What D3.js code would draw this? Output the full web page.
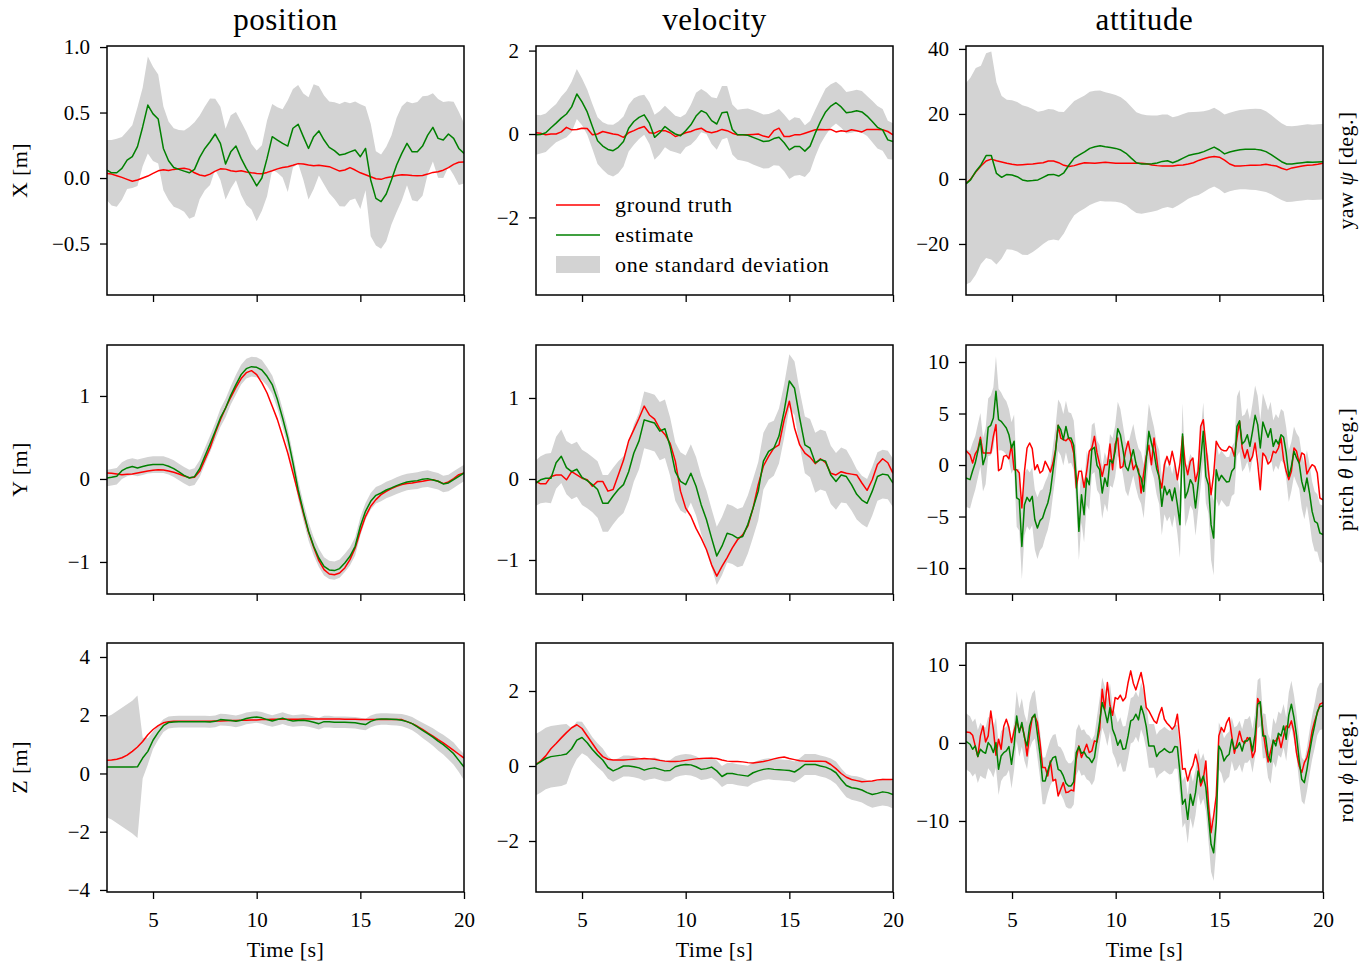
<!DOCTYPE html>
<html>
<head>
<meta charset="utf-8">
<script src="https://cdn.jsdelivr.net/npm/d3@7"></script>
<style>
  body { margin: 0; background: #fff; }
  text { font-family: "Liberation Serif", "DejaVu Serif", serif; fill: #000; }
</style>
</head>
<body>
<svg id="chart" width="1369" height="963"></svg>
<script>
// Sample times [s]
const time = [2.78].concat(d3.range(3, 20.001, 0.25));                       // 70 samples
const timeFine = [2.78].concat(d3.range(1, 137).map(k => 2.85 + 0.125 * k), [20]); // 138 samples

// Column / row labels
const columnTitles = ["position", "velocity", "attitude"];
const leftLabels = ["X [m]", "Y [m]", "Z [m]"];
const rightLabels = [["yaw ", "ψ", " [deg.]"], ["pitch ", "θ", " [deg.]"], ["roll ", "ϕ", " [deg.]"]];
const timeTicks = [5, 10, 15, 20];
const legendLabels = ["ground truth", "estimate", "one standard deviation"];

// ---- position X
const posXTruth = [0.035, 0.03, 0.018, 0.005, -0.01, -0.025, -0.015, 0.0, 0.015, 0.035,
  0.055, 0.063, 0.058, 0.066, 0.07, 0.074, 0.066, 0.04, 0.023, 0.015,
  0.03, 0.053, 0.07, 0.068, 0.056, 0.05, 0.056, 0.046, 0.04, 0.035,
  0.033, 0.043, 0.056, 0.07, 0.08, 0.086, 0.097, 0.11, 0.107, 0.1,
  0.094, 0.097, 0.092, 0.087, 0.07, 0.053, 0.061, 0.08, 0.061, 0.04,
  0.025, 0.01, -0.005, -0.01, 0.003, 0.01, 0.02, 0.025, 0.023, 0.02,
  0.018, 0.02, 0.03, 0.043, 0.048, 0.06, 0.08, 0.104, 0.12, 0.122];
const posXEst = [0.061, 0.04, 0.04, 0.074, 0.137, 0.163, 0.24, 0.39, 0.557, 0.49,
  0.45, 0.226, 0.132, 0.08, 0.066, 0.053, 0.04, 0.066, 0.158, 0.226,
  0.277, 0.336, 0.265, 0.107, 0.2, 0.244, 0.15, 0.074, 0.01, -0.06,
  0.0, 0.15, 0.316, 0.29, 0.265, 0.244, 0.38, 0.41, 0.316, 0.226,
  0.316, 0.36, 0.29, 0.234, 0.209, 0.175, 0.183, 0.2, 0.214, 0.163,
  0.226, -0.015, -0.155, -0.18, -0.122, -0.015, 0.1, 0.188, 0.265, 0.2,
  0.2, 0.244, 0.328, 0.387, 0.303, 0.29, 0.336, 0.303, 0.226, 0.188];
const posXStd = [0.23, 0.25, 0.26, 0.24, 0.22, 0.24, 0.3, 0.3, 0.37, 0.36,
  0.34, 0.32, 0.3, 0.3, 0.3, 0.31, 0.35, 0.36, 0.32, 0.32,
  0.33, 0.27, 0.28, 0.27, 0.28, 0.26, 0.28, 0.28, 0.25, 0.27,
  0.25, 0.29, 0.25, 0.25, 0.26, 0.35, 0.3, 0.3, 0.33, 0.39,
  0.4, 0.34, 0.34, 0.35, 0.37, 0.39, 0.4, 0.37, 0.37, 0.4,
  0.32, 0.43, 0.36, 0.36, 0.36, 0.34, 0.36, 0.36, 0.32, 0.37,
  0.38, 0.38, 0.3, 0.26, 0.3, 0.29, 0.25, 0.28, 0.28, 0.23];

// ---- velocity X
const velXTruth = [0.03, 0.02, -0.02, 0.0, 0.0, 0.05, 0.16, 0.1, 0.11, 0.14,
  0.13, -0.02, 0.0, 0.06, 0.03, 0.0, -0.02, -0.08, 0.03, 0.08,
  0.14, 0.18, 0.03, 0.02, 0.08, 0.08, 0.03, -0.06, -0.02, 0.03,
  0.06, 0.11, 0.14, 0.06, 0.03, 0.06, 0.11, 0.08, 0.02, -0.02,
  -0.02, -0.02, -0.01, 0.0, -0.05, -0.08, 0.08, 0.14, -0.06, -0.06,
  -0.02, -0.02, 0.02, 0.06, 0.1, 0.11, 0.1, 0.11, 0.05, 0.08,
  0.06, 0.1, 0.08, 0.05, 0.11, 0.11, 0.11, 0.1, 0.06, -0.02];
const velXEst = [-0.02, -0.01, 0.03, 0.15, 0.26, 0.38, 0.48, 0.65, 0.96, 0.77,
  0.53, 0.18, -0.16, -0.29, -0.37, -0.4, -0.32, -0.18, 0.14, 0.3,
  0.4, 0.46, 0.26, -0.08, 0.03, 0.18, 0.08, 0.0, -0.04, 0.08,
  0.22, 0.43, 0.56, 0.5, 0.32, 0.24, 0.51, 0.53, 0.11, -0.02,
  -0.02, -0.03, -0.08, -0.13, -0.18, -0.17, -0.11, -0.08, -0.21, -0.38,
  -0.3, -0.3, -0.41, -0.29, 0.02, 0.3, 0.53, 0.67, 0.75, 0.65,
  0.51, 0.53, 0.56, 0.53, 0.43, 0.3, 0.16, 0.1, -0.14, -0.18];
const velXStd = [0.48, 0.46, 0.46, 0.46, 0.46, 0.52, 0.56, 0.6, 0.6, 0.56,
  0.54, 0.54, 0.56, 0.57, 0.6, 0.62, 0.62, 0.6, 0.56, 0.56,
  0.52, 0.48, 0.5, 0.54, 0.52, 0.5, 0.48, 0.44, 0.44, 0.4,
  0.48, 0.56, 0.52, 0.5, 0.56, 0.62, 0.64, 0.62, 0.6, 0.6,
  0.62, 0.64, 0.65, 0.65, 0.65, 0.65, 0.64, 0.68, 0.68, 0.7,
  0.7, 0.68, 0.62, 0.6, 0.56, 0.54, 0.56, 0.52, 0.5, 0.5,
  0.5, 0.5, 0.5, 0.5, 0.48, 0.5, 0.51, 0.5, 0.46, 0.44];

// ---- yaw
const yawTruth = [-1.3, -0.1, 2.1, 4.0, 5.5, 6.1, 5.6, 5.2, 4.8, 4.5,
  4.3, 4.4, 4.5, 4.6, 4.8, 5.0, 5.5, 5.5, 5.0, 4.2,
  3.8, 4.1, 4.6, 5.0, 4.9, 4.8, 5.0, 5.1, 5.0, 4.8,
  4.8, 4.8, 4.8, 4.8, 4.8, 4.7, 4.3, 4.1, 4.0, 4.0,
  4.0, 4.2, 4.3, 4.6, 5.0, 5.7, 6.2, 6.7, 6.9, 6.7,
  5.8, 4.6, 4.0, 4.0, 4.1, 4.2, 4.2, 4.3, 4.5, 4.2,
  4.0, 3.3, 2.8, 3.4, 3.7, 4.0, 4.2, 4.3, 4.5, 4.8];
const yawEst = [-1.5, -0.3, 2.3, 4.3, 7.2, 7.2, 1.7, 0.5, 1.4, 1.2,
  0.7, -0.3, -0.6, -0.5, -0.3, 0.5, 1.3, 1.4, 0.9, 1.9,
  4.3, 6.4, 7.4, 8.3, 9.4, 9.9, 10.2, 9.9, 9.7, 9.4,
  8.9, 7.9, 6.4, 5.0, 4.6, 4.6, 4.7, 4.9, 5.4, 5.6,
  5.0, 5.6, 6.4, 7.2, 7.6, 7.9, 8.4, 9.1, 9.8, 8.9,
  7.7, 8.3, 8.7, 9.0, 9.1, 9.1, 9.1, 8.9, 8.4, 7.5,
  6.4, 5.3, 4.6, 4.6, 4.8, 5.0, 5.2, 5.1, 5.2, 5.3];
const yawStd = [31, 31.5, 31.8, 30.5, 31.5, 32, 28, 25, 23, 23,
  23, 23, 22.8, 22, 21, 20.5, 20.2, 20, 19.8, 18.7,
  18, 17.6, 17.4, 17.4, 17.4, 17.2, 17, 16.8, 16.6, 16.4,
  16.2, 16, 15.8, 15.5, 15.3, 15, 14.8, 14.6, 14.4, 14.2,
  14, 13.8, 13.6, 13.3, 13, 12.8, 12.4, 12.1, 12.1, 12.1,
  12.1, 12.1, 12.1, 12.2, 12.3, 12.4, 12.5, 12.6, 12.4, 12.2,
  12, 11.8, 11.7, 11.6, 11.6, 11.6, 11.6, 11.6, 11.6, 11.6];

// ---- position Y
const posYTruth = [0.072, 0.068, 0.06, 0.052, 0.056, 0.06, 0.072, 0.084, 0.096, 0.104,
  0.112, 0.108, 0.096, 0.08, 0.06, 0.036, 0.016, 0.02, 0.092, 0.233,
  0.373, 0.554, 0.715, 0.855, 0.984, 1.104, 1.209, 1.281, 1.305, 1.257,
  1.157, 1.036, 0.876, 0.715, 0.514, 0.313, 0.072, -0.169, -0.41, -0.639,
  -0.823, -0.984, -1.092, -1.145, -1.153, -1.133, -1.072, -0.972, -0.831, -0.631,
  -0.45, -0.329, -0.249, -0.189, -0.149, -0.116, -0.088, -0.068, -0.056, -0.048,
  -0.036, -0.028, -0.016, -0.008, -0.028, -0.056, -0.036, 0.004, 0.052, 0.072];
const posYEst = [0.012, 0.02, 0.032, 0.1, 0.133, 0.149, 0.133, 0.149, 0.165, 0.173,
  0.173, 0.173, 0.153, 0.124, 0.084, 0.044, 0.012, 0.028, 0.124, 0.273,
  0.422, 0.574, 0.735, 0.855, 1.008, 1.137, 1.257, 1.329, 1.353, 1.345,
  1.313, 1.237, 1.137, 0.956, 0.735, 0.494, 0.193, -0.129, -0.39, -0.63,
  -0.811, -0.952, -1.052, -1.096, -1.104, -1.08, -1.012, -0.932, -0.811, -0.57,
  -0.39, -0.269, -0.197, -0.169, -0.133, -0.108, -0.08, -0.056, -0.036, -0.028,
  -0.02, -0.004, 0.004, -0.012, -0.028, -0.06, -0.048, -0.008, 0.032, 0.072];
const posYStd = [0.1, 0.1, 0.1, 0.1, 0.1, 0.1, 0.1, 0.1, 0.1, 0.1,
  0.1, 0.1, 0.1, 0.1, 0.1, 0.1, 0.1, 0.1, 0.1, 0.1,
  0.1, 0.1, 0.11, 0.11, 0.11, 0.12, 0.12, 0.12, 0.12, 0.12,
  0.12, 0.11, 0.11, 0.11, 0.11, 0.11, 0.11, 0.11, 0.11, 0.11,
  0.11, 0.11, 0.11, 0.11, 0.11, 0.11, 0.11, 0.11, 0.11, 0.11,
  0.1, 0.1, 0.1, 0.1, 0.1, 0.1, 0.1, 0.1, 0.1, 0.1,
  0.1, 0.1, 0.1, 0.1, 0.1, 0.1, 0.1, 0.1, 0.1, 0.1];

// ---- velocity Y
const velYTruth = [-0.03, -0.06, -0.06, 0.03, 0.05, 0.05, -0.01, 0.09, 0.05, 0.01,
  -0.01, -0.09, -0.03, -0.03, -0.15, -0.13, 0.05, 0.23, 0.47, 0.61,
  0.75, 0.9, 0.79, 0.74, 0.62, 0.55, 0.44, 0.22, -0.15, -0.36,
  -0.46, -0.61, -0.73, -0.87, -1.06, -1.2, -1.08, -0.97, -0.85, -0.75,
  -0.69, -0.58, -0.36, -0.07, 0.16, 0.28, 0.38, 0.42, 0.73, 0.96,
  0.63, 0.42, 0.32, 0.27, 0.19, 0.25, 0.2, 0.07, 0.05, 0.09,
  0.07, 0.06, 0.05, -0.05, -0.14, -0.01, 0.18, 0.25, 0.2, 0.07];
const velYEst = [-0.05, -0.01, 0.01, 0.01, 0.2, 0.28, 0.14, 0.09, 0.12, 0.02,
  -0.02, -0.07, -0.13, -0.3, -0.3, -0.21, -0.13, -0.07, 0.09, 0.32,
  0.47, 0.73, 0.71, 0.69, 0.59, 0.62, 0.4, 0.09, -0.03, -0.07,
  0.07, -0.09, -0.32, -0.5, -0.73, -0.95, -0.83, -0.67, -0.69, -0.73,
  -0.71, -0.56, -0.36, -0.15, 0.22, 0.34, 0.38, 0.53, 0.84, 1.21,
  1.12, 0.75, 0.42, 0.38, 0.2, 0.24, 0.22, 0.05, -0.03, 0.05,
  0.03, -0.07, -0.19, -0.26, -0.3, -0.15, 0.03, 0.06, 0.05, -0.05];
const velYStd = [0.28, 0.29, 0.3, 0.31, 0.32, 0.33, 0.33, 0.34, 0.34, 0.34,
  0.34, 0.34, 0.35, 0.35, 0.35, 0.35, 0.35, 0.35, 0.35, 0.35,
  0.35, 0.35, 0.35, 0.35, 0.36, 0.36, 0.36, 0.36, 0.36, 0.36,
  0.36, 0.36, 0.36, 0.36, 0.36, 0.36, 0.36, 0.36, 0.36, 0.36,
  0.36, 0.36, 0.36, 0.36, 0.35, 0.35, 0.34, 0.34, 0.33, 0.33,
  0.33, 0.34, 0.35, 0.36, 0.37, 0.37, 0.37, 0.36, 0.35, 0.34,
  0.33, 0.32, 0.31, 0.3, 0.3, 0.3, 0.3, 0.3, 0.3, 0.3];

// ---- pitch (fine sampling)
const pitchTruth = [1.39, 1.0, 0.19, 1.07, 1.49, 2.69, 1.17, 1.17, 1.17, 1.17,
  2.78, 3.92, -0.55, -0.36, 0.84, 0.94, 0.61, 1.91, -0.45, -0.45,
  -0.78, -4.17, -0.61, 1.65, 2.14, 1.59, -0.45, 0.03, -0.78, -0.55,
  0.36, -0.13, -0.68, 0.19, 1.49, 3.85, 2.62, 2.46, 2.36, 2.62,
  2.23, 1.17, -2.23, -0.61, -0.61, -2.17, -0.61, 1.33, 1.65, 2.78,
  1.17, 0.1, -1.1, 0.03, 0.03, 2.04, -0.45, 2.04, 2.62, -0.29,
  -0.13, 1.33, 2.3, 1.0, -0.45, 0.03, -0.45, -2.72, -0.78, 0.84,
  1.91, 0.03, 2.62, 0.68, -1.26, -2.23, 0.03, 0.84, 0.03, 1.33,
  0.19, -1.42, 0.19, 2.78, 0.19, -0.94, 0.36, 0.68, -1.59, -0.61,
  3.75, 4.4, 1.97, -0.61, -2.88, -0.94, 2.3, 1.81, 1.49, 1.39,
  1.39, 1.81, 1.65, 0.84, 2.62, 4.24, 1.65, 0.68, 1.49, 0.36,
  0.84, 2.14, 0.19, -2.39, 1.17, 0.84, 0.1, 0.36, 1.33, 1.17,
  1.65, 2.62, 0.52, -0.61, -1.42, -0.61, 1.65, 1.33, 0.19, 1.17,
  1.0, -0.87, -0.36, 0.03, -0.13, -0.78, -3.2, -3.37];
const pitchEst = [-1.26, -1.42, -0.55, 0.19, 1.33, 2.46, 0.03, 0.84, 3.66, 3.85,
  4.56, 7.15, 4.4, 4.24, 3.92, 3.59, 2.94, 1.65, 2.3, -3.2,
  -3.37, -7.9, -3.85, -3.14, -3.53, -3.04, -5.31, -6.12, -5.4, -5.15,
  -4.34, -3.69, -2.56, -0.55, 1.33, 3.85, 3.43, 2.46, 3.75, 2.62,
  2.62, 1.91, -1.26, -6.44, -2.88, -4.82, -1.26, -1.91, 1.49, 1.72,
  -0.03, -0.45, -2.72, -1.26, -2.07, 0.52, 0.19, 1.33, 3.53, 2.94,
  1.49, -0.13, -0.55, 0.52, 1.49, 0.19, -0.78, -1.26, -2.56, 0.52,
  3.27, 2.14, 1.17, -0.36, -1.2, -4.01, -2.07, -2.88, -2.39, -3.46,
  -2.23, -3.85, -5.79, 3.0, -3.2, -2.56, -1.42, -1.91, -4.17, -1.91,
  0.52, 3.27, -1.1, -1.91, -5.79, -7.09, -0.45, -1.52, -1.0, -1.33,
  -1.65, -1.59, -0.61, -0.29, 3.75, 4.3, 2.04, 2.3, 2.94, 1.81,
  3.27, 4.82, 3.92, 1.65, 4.17, 3.43, 2.69, 3.53, 1.81, 2.46,
  2.04, 2.94, 2.69, 1.17, -1.1, -0.13, 1.33, 0.68, 0.19, -1.59,
  -2.56, -1.26, -2.72, -4.5, -5.47, -5.63, -6.6, -6.76];
const pitchStd = [2.8, 2.8, 2.7, 2.6, 2.6, 2.6, 2.6, 2.7, 2.8, 2.9,
  3.0, 3.4, 3.0, 2.8, 2.6, 2.6, 2.5, 2.5, 2.6, 2.8,
  3.0, 3.2, 3.0, 2.8, 2.8, 2.8, 2.9, 3.0, 2.9, 2.8,
  2.7, 2.6, 2.5, 2.4, 2.4, 2.5, 2.5, 2.5, 2.5, 2.5,
  2.4, 2.4, 2.6, 2.8, 2.7, 2.7, 2.6, 2.5, 2.4, 2.4,
  2.4, 2.4, 2.5, 2.5, 2.5, 2.5, 2.4, 2.5, 2.6, 2.5,
  2.4, 2.4, 2.5, 2.5, 2.5, 2.4, 2.4, 2.5, 2.6, 2.6,
  2.7, 2.6, 2.5, 2.5, 2.6, 2.8, 2.7, 2.6, 2.6, 2.6,
  2.6, 2.8, 3.2, 3.0, 2.8, 2.6, 2.5, 2.5, 2.7, 2.6,
  2.7, 2.8, 2.6, 2.8, 3.4, 3.6, 2.8, 2.5, 2.4, 2.4,
  2.4, 2.4, 2.4, 2.5, 2.9, 3.0, 2.7, 2.6, 2.6, 2.6,
  2.7, 2.9, 2.8, 2.7, 2.8, 2.7, 2.6, 2.6, 2.5, 2.5,
  2.5, 2.5, 2.5, 2.5, 2.5, 2.4, 2.4, 2.4, 2.5, 2.6,
  2.7, 2.7, 2.8, 2.9, 2.9, 2.8, 2.8, 2.8];

// ---- position Z
const posZTruth = [0.45, 0.46, 0.49, 0.54, 0.63, 0.76, 0.91, 1.1, 1.33, 1.51,
  1.64, 1.74, 1.78, 1.79, 1.79, 1.79, 1.79, 1.79, 1.79, 1.79,
  1.79, 1.8, 1.8, 1.81, 1.82, 1.82, 1.83, 1.83, 1.84, 1.84,
  1.85, 1.85, 1.86, 1.86, 1.86, 1.86, 1.86, 1.86, 1.87, 1.87,
  1.87, 1.87, 1.87, 1.87, 1.87, 1.87, 1.86, 1.86, 1.86, 1.85,
  1.85, 1.85, 1.85, 1.85, 1.85, 1.85, 1.85, 1.85, 1.78, 1.71,
  1.62, 1.51, 1.39, 1.28, 1.16, 1.05, 0.92, 0.79, 0.66, 0.53];
const posZEst = [0.22, 0.22, 0.22, 0.22, 0.22, 0.22, 0.23, 0.53, 0.76, 1.14,
  1.41, 1.64, 1.75, 1.77, 1.78, 1.78, 1.78, 1.78, 1.78, 1.78,
  1.77, 1.79, 1.85, 1.84, 1.82, 1.79, 1.83, 1.89, 1.92, 1.94,
  1.91, 1.85, 1.8, 1.85, 1.9, 1.84, 1.8, 1.82, 1.83, 1.8,
  1.76, 1.71, 1.78, 1.78, 1.76, 1.76, 1.76, 1.75, 1.74, 1.71,
  1.68, 1.79, 1.85, 1.87, 1.87, 1.86, 1.85, 1.83, 1.78, 1.71,
  1.6, 1.48, 1.37, 1.25, 1.11, 0.99, 0.84, 0.68, 0.45, 0.22];
const posZStd = [1.73, 1.8, 1.92, 2.04, 2.16, 2.28, 2.45, 0.7, 0.45, 0.3,
  0.25, 0.22, 0.21, 0.2, 0.2, 0.2, 0.2, 0.2, 0.2, 0.2,
  0.2, 0.2, 0.2, 0.2, 0.2, 0.2, 0.2, 0.2, 0.2, 0.2,
  0.2, 0.2, 0.2, 0.2, 0.2, 0.2, 0.2, 0.2, 0.2, 0.2,
  0.2, 0.2, 0.2, 0.2, 0.2, 0.2, 0.2, 0.2, 0.2, 0.2,
  0.2, 0.2, 0.2, 0.2, 0.2, 0.2, 0.2, 0.21, 0.22, 0.23,
  0.24, 0.26, 0.28, 0.3, 0.32, 0.34, 0.36, 0.38, 0.4, 0.45];

// ---- velocity Z
const velZTruth = [0.04, 0.13, 0.27, 0.46, 0.6, 0.75, 0.89, 1.02, 1.1, 1.0,
  0.8, 0.6, 0.4, 0.25, 0.18, 0.16, 0.16, 0.16, 0.17, 0.18,
  0.19, 0.2, 0.19, 0.18, 0.15, 0.13, 0.12, 0.12, 0.13, 0.15,
  0.17, 0.19, 0.2, 0.21, 0.21, 0.2, 0.16, 0.13, 0.12, 0.12,
  0.11, 0.09, 0.08, 0.1, 0.12, 0.15, 0.19, 0.22, 0.24, 0.2,
  0.17, 0.14, 0.13, 0.13, 0.13, 0.13, 0.12, 0.04, -0.07, -0.2,
  -0.3, -0.36, -0.39, -0.42, -0.41, -0.4, -0.37, -0.36, -0.36, -0.36];
const velZEst = [0.04, 0.11, 0.2, 0.25, 0.27, 0.29, 0.32, 0.46, 0.69, 0.76,
  0.62, 0.44, 0.29, 0.16, -0.04, -0.13, -0.07, 0.0, 0.0, -0.02,
  -0.05, -0.11, -0.07, -0.05, -0.09, -0.13, -0.12, -0.02, 0.02, 0.04,
  0.03, -0.02, -0.09, -0.07, -0.03, -0.13, -0.28, -0.2, -0.2, -0.23,
  -0.25, -0.27, -0.18, -0.13, -0.09, -0.07, -0.09, -0.1, -0.11, -0.12,
  -0.16, -0.07, 0.04, 0.04, 0.04, 0.0, -0.03, -0.09, -0.18, -0.36,
  -0.52, -0.58, -0.6, -0.64, -0.71, -0.76, -0.73, -0.69, -0.71, -0.76];
const velZStd = [0.82, 0.82, 0.82, 0.82, 0.82, 0.82, 0.8, 0.55, 0.5, 0.42,
  0.36, 0.33, 0.32, 0.31, 0.3, 0.29, 0.28, 0.28, 0.28, 0.28,
  0.28, 0.28, 0.28, 0.28, 0.28, 0.28, 0.28, 0.28, 0.28, 0.28,
  0.28, 0.28, 0.28, 0.28, 0.28, 0.28, 0.28, 0.28, 0.28, 0.28,
  0.28, 0.28, 0.28, 0.28, 0.28, 0.28, 0.28, 0.28, 0.28, 0.28,
  0.28, 0.28, 0.28, 0.28, 0.28, 0.28, 0.28, 0.29, 0.3, 0.3,
  0.31, 0.32, 0.33, 0.33, 0.34, 0.35, 0.35, 0.36, 0.36, 0.37];

// ---- roll (fine sampling)
const rollTruth = [1.41, 1.32, 0.98, -0.38, -1.75, 0.9, 2.18, 0.13, 0.9, 4.1,
  1.75, -1.58, 0.47, -0.81, 2.09, 3.03, 1.97, 0.04, 1.54, 2.82,
  1.54, 2.26, 0.9, -1.67, 1.11, 3.25, 3.46, 2.61, 0.04, -3.16,
  -3.16, -4.23, -2.31, -4.87, -4.66, -6.79, -5.94, -5.09, -6.37, -6.28,
  -6.03, -6.15, -2.09, -0.38, -1.88, -1.03, -0.17, -1.24, -1.03, 0.26,
  0.13, 1.67, 6.88, 4.32, 7.74, 4.83, 3.55, 5.81, 5.6, 6.11,
  5.38, 5.81, 7.74, 9.23, 7.65, 6.79, 7.95, 9.02, 7.31, 4.53,
  4.1, 3.46, 2.82, 2.52, 3.68, 4.53, 3.03, 2.52, 2.18, 1.75,
  2.18, 3.68, 0.47, -3.38, -3.29, -4.87, -3.59, -2.86, -1.45, -2.74,
  -5.51, -4.66, -2.31, -7.86, -11.5, -9.36, -6.79, 0.9, 1.97, 1.41,
  2.61, 3.25, 0.9, -1.32, 0.04, 1.5, 0.26, -0.04, 0.68, 0.47,
  -1.88, -1.03, 5.68, 4.96, 1.75, -0.6, -2.44, -1.03, 0.26, 0.26,
  0.9, -0.6, 0.9, 2.18, 1.97, 2.82, 1.41, -1.32, -2.95, -3.8,
  -2.52, -1.88, -0.47, 1.54, 2.82, 3.8, 4.96, 5.17];
const rollEst = [0.21, -0.17, -0.81, -0.38, -1.75, -0.81, -1.15, -1.32, 0.04, -0.38,
  -1.24, 0.04, -3.38, -1.67, -1.24, -1.03, -0.47, -2.74, -0.38, 3.46,
  1.32, 2.61, 0.68, -0.38, 2.18, 3.25, 3.68, 1.11, -1.45, -4.87,
  -4.87, -3.59, -2.52, -1.88, -1.75, -3.38, -3.59, -4.23, -5.17, -5.51,
  -5.51, -5.0, -1.24, -0.47, -1.32, -1.15, -1.75, -1.97, -2.52, -1.88,
  0.38, 2.69, 5.17, 4.1, 2.61, 4.53, 1.75, 0.9, -0.3, 0.38,
  -0.81, -0.73, 0.9, 2.82, 3.03, 3.68, 2.95, 4.74, 3.68, 2.09,
  -0.38, -0.38, -0.38, -1.75, -1.24, -1.03, -0.73, -1.03, -1.24, -1.15,
  -0.47, -0.51, -3.8, -7.86, -7.22, -9.79, -6.58, -7.99, -6.37, -3.59,
  -5.09, -4.23, -5.73, -9.36, -12.99, -14.06, -10.21, -0.38, -1.03, -2.31,
  -1.75, -1.45, 0.47, -0.81, -0.6, 0.04, -1.03, 0.26, 0.26, 0.68,
  -1.03, 1.11, 4.96, 5.26, 0.9, 0.9, -1.67, -2.44, 0.38, -0.38,
  1.24, 0.9, 2.18, 0.47, 3.55, 4.96, 3.25, 0.9, -2.18, -4.66,
  -5.09, -3.38, -1.24, 0.68, 2.26, 3.97, 4.66, 4.74];
const rollStd = [3.6, 3.6, 3.5, 3.5, 3.4, 3.4, 3.3, 3.3, 3.3, 3.3,
  3.2, 3.2, 3.3, 3.2, 3.1, 3.1, 3.0, 3.1, 3.1, 3.2,
  3.1, 3.1, 3.0, 3.0, 3.0, 3.1, 3.1, 3.0, 3.0, 3.0,
  3.0, 2.9, 2.9, 2.9, 2.9, 3.0, 3.0, 3.0, 3.0, 2.9,
  2.9, 2.9, 2.9, 2.9, 2.9, 2.9, 2.9, 2.9, 2.9, 2.9,
  3.0, 3.0, 3.2, 3.1, 3.0, 3.1, 3.0, 2.9, 2.9, 2.9,
  2.9, 2.9, 2.9, 2.9, 2.9, 2.9, 2.9, 3.0, 2.9, 2.9,
  2.8, 2.8, 2.8, 2.8, 2.8, 2.8, 2.8, 2.8, 2.8, 2.8,
  2.8, 2.8, 2.9, 3.0, 3.0, 3.1, 3.0, 3.0, 2.9, 2.9,
  2.9, 2.9, 3.0, 3.2, 3.5, 3.6, 3.4, 3.0, 2.9, 2.9,
  2.9, 2.9, 2.8, 2.8, 2.8, 2.8, 2.8, 2.8, 2.8, 2.8,
  2.8, 2.9, 3.1, 3.1, 2.9, 2.8, 2.8, 2.8, 2.8, 2.8,
  2.8, 2.8, 2.8, 2.8, 2.9, 3.0, 2.9, 2.8, 2.8, 2.8,
  2.8, 2.8, 2.8, 2.8, 2.9, 3.0, 3.0, 3.0];

// panel table (row-major)
const panels = [
  { t: time, truth: posXTruth, est: posXEst, std: posXStd, domain: [-0.893, 1.008], ticks: [-0.5, 0, 0.5, 1.0], fmt: d3.format(".1f") },
  { t: time, truth: velXTruth, est: velXEst, std: velXStd, domain: [-3.86, 2.11], ticks: [-2, 0, 2] },
  { t: time, truth: yawTruth, est: yawEst, std: yawStd, domain: [-35.7, 40.9], ticks: [-20, 0, 20, 40] },
  { t: time, truth: posYTruth, est: posYEst, std: posYStd, domain: [-1.386, 1.614], ticks: [-1, 0, 1] },
  { t: time, truth: velYTruth, est: velYEst, std: velYStd, domain: [-1.42, 1.654], ticks: [-1, 0, 1] },
  { t: timeFine, truth: pitchTruth, est: pitchEst, std: pitchStd, domain: [-12.52, 11.65], ticks: [-10, -5, 0, 5, 10] },
  { t: time, truth: posZTruth, est: posZEst, std: posZStd, domain: [-4.07, 4.48], ticks: [-4, -2, 0, 2, 4] },
  { t: time, truth: velZTruth, est: velZEst, std: velZStd, domain: [-3.36, 3.28], ticks: [-2, 0, 2] },
  { t: timeFine, truth: rollTruth, est: rollEst, std: rollStd, domain: [-19.1, 12.8], ticks: [-10, 0, 10] }
];

const svg = d3.select("#chart");
const colX = [107, 536, 966], rowY = [46, 345, 643];
const pw = 357, ph = 249;
const x = d3.scaleLinear().domain([2.78, 20]).range([0, pw]);

const RED = "#ff0000", GREEN = "#008000", GREY = "#d3d3d3";

panels.forEach((p, i) => {
  const row = Math.floor(i / 3), col = i % 3;
  const g = svg.append("g").attr("transform", `translate(${colX[col]},${rowY[row]})`);
  const y = d3.scaleLinear().domain(p.domain).range([ph, 0]);

  g.append("clipPath").attr("id", "clip" + i)
    .append("rect").attr("width", pw).attr("height", ph);
  const plot = g.append("g").attr("clip-path", `url(#clip${i})`);

  const band = d3.area()
    .x((d, j) => x(p.t[j]))
    .y0((d, j) => y(d - p.std[j]))
    .y1((d, j) => y(d + p.std[j]));
  const line = d3.line().x((d, j) => x(p.t[j])).y(d => y(d));

  plot.append("path").datum(p.est).attr("d", band).attr("fill", GREY);
  plot.append("path").datum(p.truth).attr("d", line)
    .attr("fill", "none").attr("stroke", RED).attr("stroke-width", 1.5).attr("stroke-linejoin", "round");
  plot.append("path").datum(p.est).attr("d", line)
    .attr("fill", "none").attr("stroke", GREEN).attr("stroke-width", 1.5).attr("stroke-linejoin", "round");

  // y axis
  const ya = g.append("g").call(d3.axisLeft(y).tickValues(p.ticks)
    .tickFormat(p.fmt || d3.format("d")).tickSize(7).tickPadding(10));
  ya.select(".domain").remove();
  ya.selectAll("line").attr("stroke", "#000").attr("stroke-width", 1.3);
  ya.selectAll("text").attr("font-size", 21).attr("font-family", "Liberation Serif");

  // x axis
  const xa = g.append("g").attr("transform", `translate(0,${ph})`)
    .call(d3.axisBottom(x).tickValues(timeTicks).tickSize(7)
      .tickFormat(row === 2 ? d3.format("d") : ""));
  xa.select(".domain").remove();
  xa.selectAll("line").attr("stroke", "#000").attr("stroke-width", 1.3);
  xa.selectAll("text").attr("font-size", 21).attr("font-family", "Liberation Serif")
    .attr("y", 35).attr("dy", 0);

  // frame
  g.append("rect").attr("width", pw).attr("height", ph)
    .attr("fill", "none").attr("stroke", "#000").attr("stroke-width", 1.5);

  if (row === 0) {
    svg.append("text").attr("x", colX[col] + pw / 2).attr("y", 30)
      .attr("text-anchor", "middle").attr("font-size", 31).attr("letter-spacing", 0.6)
      .text(columnTitles[col]);
  }
  if (row === 2) {
    svg.append("text").attr("x", colX[col] + pw / 2).attr("y", 957)
      .attr("text-anchor", "middle").attr("font-size", 22).attr("letter-spacing", 0.4)
      .text("Time [s]");
  }
  if (col === 0) {
    svg.append("text").attr("transform", `translate(27,${rowY[row] + ph / 2}) rotate(-90)`)
      .attr("text-anchor", "middle").attr("font-size", 22).attr("letter-spacing", 0.4)
      .text(leftLabels[row]);
  }
  if (col === 2) {
    const t = svg.append("text").attr("transform", `translate(1353,${rowY[row] + ph / 2}) rotate(-90)`)
      .attr("text-anchor", "middle").attr("font-size", 22).attr("letter-spacing", 0.4);
    t.append("tspan").text(rightLabels[row][0]);
    t.append("tspan").attr("font-style", "italic").text(rightLabels[row][1]);
    t.append("tspan").text(rightLabels[row][2]);
  }
});

// legend in the velocity-X panel
const lg = svg.append("g").attr("transform", "translate(556,205)");
lg.append("line").attr("x1", 0).attr("x2", 44).attr("y1", 0).attr("y2", 0)
  .attr("stroke", RED).attr("stroke-width", 1.5);
lg.append("line").attr("x1", 0).attr("x2", 44).attr("y1", 30).attr("y2", 30)
  .attr("stroke", GREEN).attr("stroke-width", 1.5);
lg.append("rect").attr("x", 0).attr("y", 51).attr("width", 44).attr("height", 17).attr("fill", GREY);
legendLabels.forEach((s, k) => {
  lg.append("text").attr("x", 59).attr("y", k * 30 + 7)
    .attr("font-size", 22).attr("letter-spacing", 0.7).text(s);
});
</script>
</body>
</html>
